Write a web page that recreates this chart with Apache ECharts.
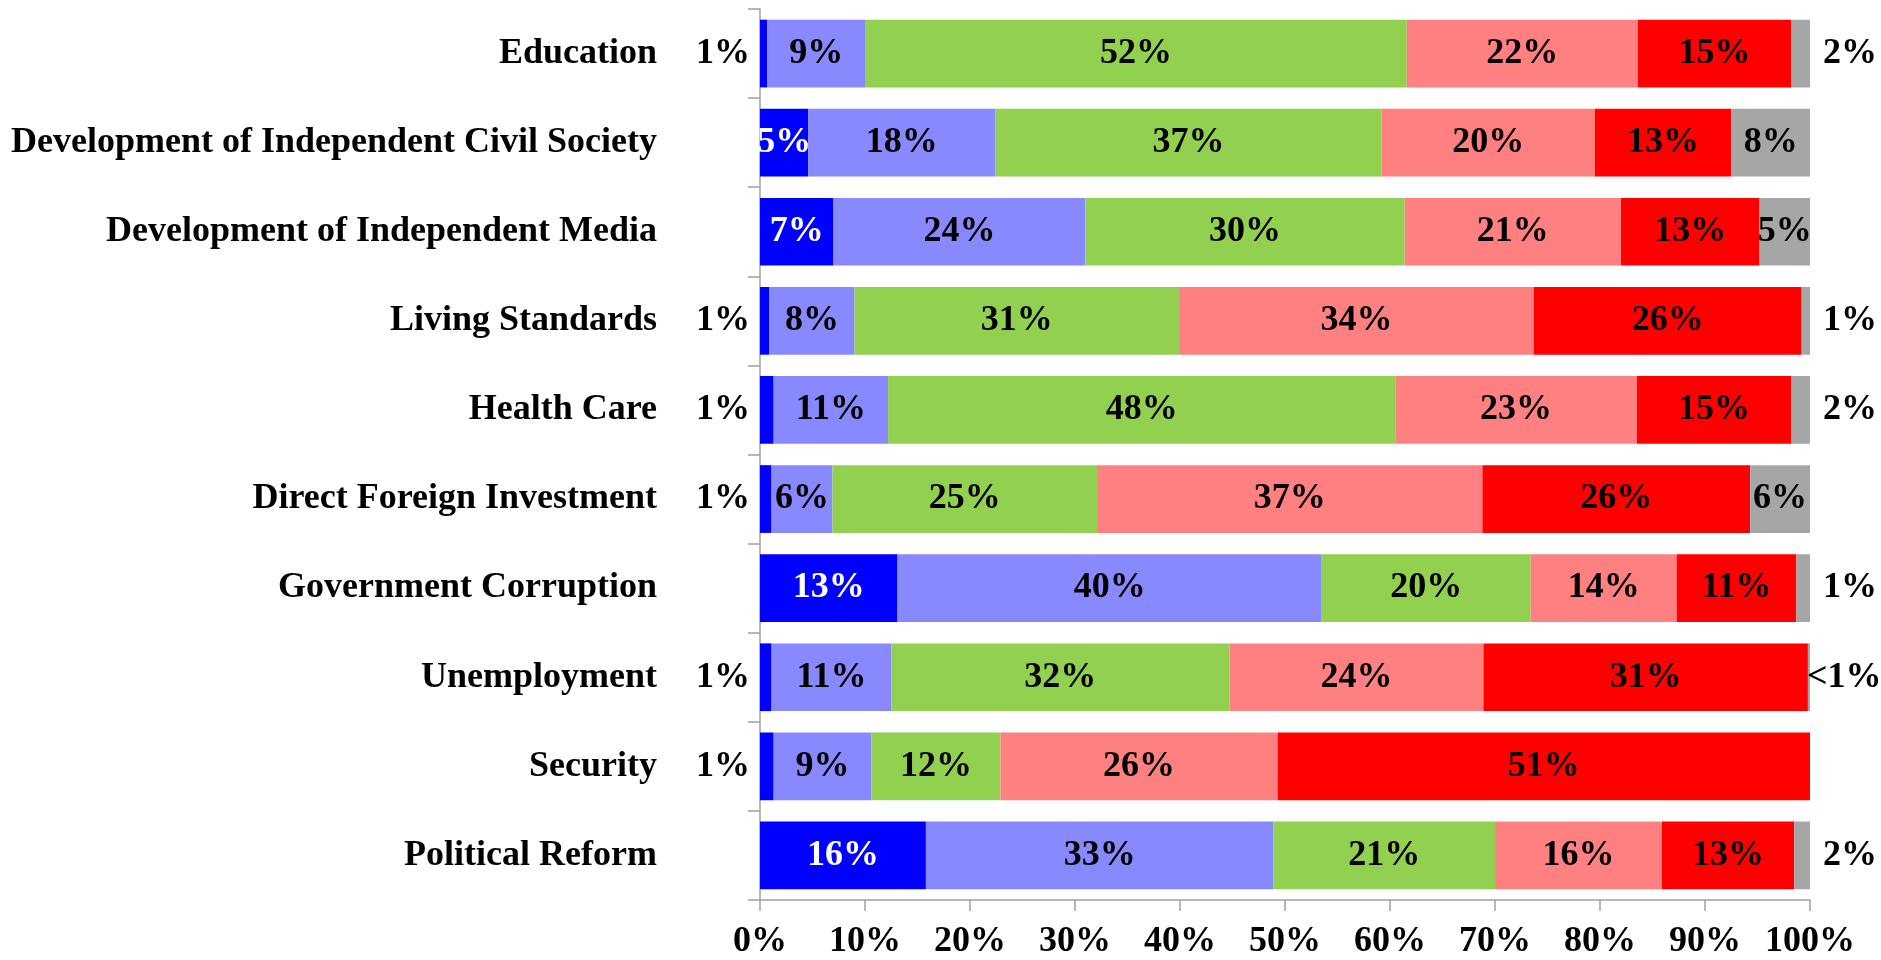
<!DOCTYPE html>
<html>
<head>
<meta charset="utf-8">
<script src="https://cdn.jsdelivr.net/npm/echarts@6/dist/echarts.min.js"></script>
<style>
html,body{margin:0;padding:0;background:#fff;}
#chart{width:1881px;height:960px;}
</style>
</head>
<body>
<div id="chart"></div>
<script>
// ---- data ----
const categories = [
  'Education',
  'Development of Independent Civil Society',
  'Development of Independent Media',
  'Living Standards',
  'Health Care',
  'Direct Foreign Investment',
  'Government Corruption',
  'Unemployment',
  'Security',
  'Political Reform'
];
const seriesNames = ['Much Better', 'Somewhat Better', 'Same', 'Somewhat Worse', 'Much Worse', 'Don\'t Know'];
const muchBetter     = [0.7, 4.6, 7.0, 0.9, 1.3, 1.1, 13.1, 1.1, 1.3, 15.8];
const somewhatBetter = [9.3, 17.8, 24.0, 8.1, 10.9, 5.8, 40.4, 11.4, 9.3, 33.1];
const same           = [51.6, 36.8, 30.4, 30.9, 48.3, 25.2, 19.9, 32.2, 12.3, 21.1];
const somewhatWorse  = [22.0, 20.3, 20.6, 33.8, 23.0, 36.7, 13.9, 24.2, 26.4, 15.9];
const muchWorse      = [14.6, 13.0, 13.2, 25.5, 14.7, 25.5, 11.4, 30.9, 50.7, 12.6];
const dontKnow       = [1.8, 7.5, 4.8, 0.8, 1.8, 5.7, 1.3, 0.2, 0, 1.5];
const xTicks = [0, 10, 20, 30, 40, 50, 60, 70, 80, 90, 100];

// ---- styling ----
const colors = ['#0000FF', '#8888FF', '#92D050', '#FF8080', '#FF0000', '#A6A6A6'];
const FONT = '"Liberation Serif", "Times New Roman", serif';
const axisColor = '#A0A0A0';
const labelSize = 36;

function fmt(v) {
  if (v <= 0) return '';
  if (v < 0.5) return '<1%';
  return Math.round(v) + '%';
}

function buildData(values, idx) {
  return values.map(v => {
    const lbl = {};
    if (idx === 0 && v < 3) {
      lbl.position = 'left'; lbl.distance = 10; lbl.color = '#000';
    } else if (idx === 5 && v < 3) {
      lbl.position = 'right'; lbl.distance = v < 0.5 ? -3 : 13; lbl.color = '#000';
    }
    return { value: v, label: lbl };
  });
}

const allValues = [muchBetter, somewhatBetter, same, somewhatWorse, muchWorse, dontKnow];
const series = allValues.map((vals, i) => ({
  name: seriesNames[i],
  type: 'bar',
  stack: 'total',
  barCategoryGap: '24%',
  itemStyle: { color: colors[i] },
  label: {
    show: true,
    position: 'inside',
    color: i === 0 ? '#FFFFFF' : '#000000',
    fontFamily: FONT,
    fontWeight: 'bold',
    fontSize: labelSize,
    formatter: p => fmt(p.value)
  },
  emphasis: { disabled: true },
  data: buildData(vals, i)
}));

const chart = echarts.init(document.getElementById('chart'), null, { renderer: 'canvas' });
chart.setOption({
  animation: false,
  backgroundColor: '#FFFFFF',
  grid: { left: 760, right: 71, top: 9, bottom: 57, containLabel: false },
  xAxis: {
    type: 'value',
    min: xTicks[0],
    max: xTicks[xTicks.length - 1],
    interval: xTicks[1] - xTicks[0],
    axisLine: { show: true, lineStyle: { color: axisColor, width: 1.5 } },
    axisTick: { show: true, length: 11, lineStyle: { color: axisColor, width: 1.5 } },
    splitLine: { show: false },
    axisLabel: {
      formatter: '{value}%',
      color: '#000',
      fontFamily: FONT,
      fontWeight: 'bold',
      fontSize: labelSize,
      margin: 24
    }
  },
  yAxis: {
    type: 'category',
    inverse: true,
    data: categories,
    axisLine: { show: true, lineStyle: { color: axisColor, width: 1.5 } },
    axisTick: { show: true, length: 12, lineStyle: { color: axisColor, width: 1.5 } },
    axisLabel: {
      color: '#000',
      fontFamily: FONT,
      fontWeight: 'bold',
      fontSize: 36,
      margin: 103
    }
  },
  series: series
});
</script>
</body>
</html>
